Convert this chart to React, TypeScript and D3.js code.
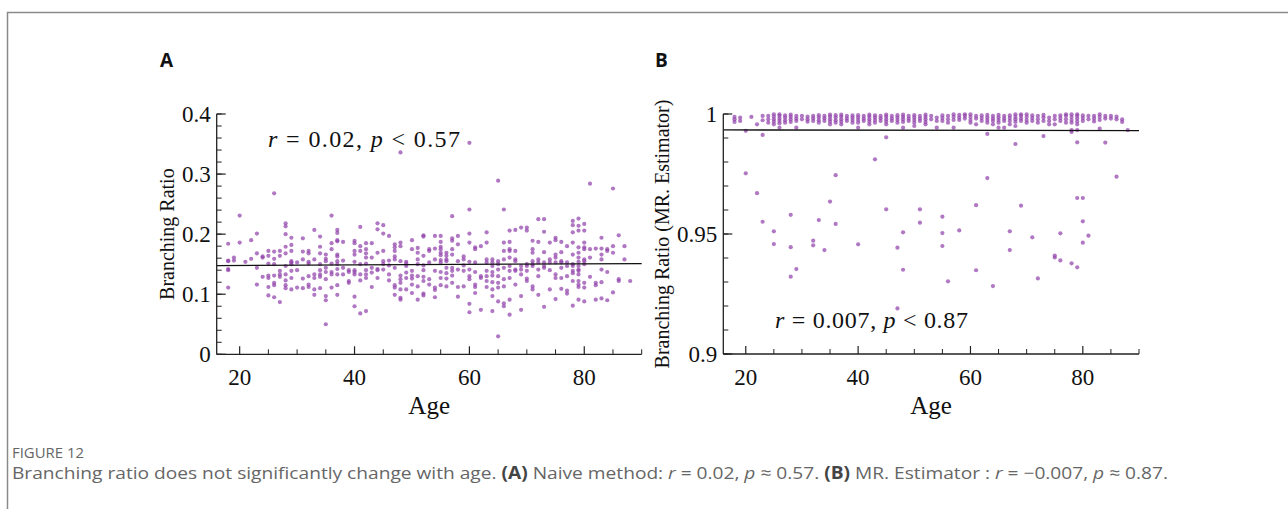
import React from 'react';
import * as d3 from 'd3';

// ---------- DATA ----------
const ageDomain: [number, number] = [16, 90];
const xMajorTicks = [20, 40, 60, 80];
const xMinorTicks = [25, 30, 35, 45, 50, 55, 65, 70, 75, 85, 90];

const yTicksA = [0, 0.1, 0.2, 0.3, 0.4];
const yTickLabelsA = ['0', '0.1', '0.2', '0.3', '0.4'];
const yTicksB = [0.9, 0.95, 1];
const yTickLabelsB = ['0.9', '0.95', '1'];

// Panel A: naive branching ratio, per age column
const naiveA: [number, number[]][] = [
  [18, [0.184, 0.156, 0.155, 0.142, 0.14, 0.111]],
  [19, [0.161, 0.156]],
  [20, [0.231, 0.186]],
  [21, [0.154]],
  [22, [0.19, 0.159]],
  [23, [0.201, 0.168, 0.144, 0.116]],
  [24, [0.163, 0.161, 0.129]],
  [25, [0.172, 0.164, 0.151, 0.131, 0.127, 0.112, 0.098]],
  [26, [0.268, 0.171, 0.159, 0.15, 0.131, 0.119, 0.115, 0.095]],
  [27, [0.172, 0.164, 0.139, 0.133, 0.129, 0.087]],
  [28, [0.218, 0.213, 0.2, 0.179, 0.168, 0.147, 0.133, 0.123, 0.115, 0.11]],
  [29, [0.194, 0.182, 0.172, 0.155, 0.153, 0.15, 0.139, 0.127, 0.108]],
  [30, [0.153, 0.14, 0.111]],
  [31, [0.193, 0.171, 0.158, 0.126, 0.11]],
  [32, [0.172, 0.168, 0.154, 0.151, 0.13, 0.116, 0.112]],
  [33, [0.207, 0.158, 0.133, 0.127, 0.108, 0.099]],
  [34, [0.196, 0.179, 0.168, 0.15, 0.14, 0.133, 0.129, 0.11]],
  [35, [0.166, 0.159, 0.155, 0.144, 0.137, 0.125, 0.097, 0.09, 0.05]],
  [36, [0.231, 0.185, 0.175, 0.151, 0.137, 0.133, 0.111]],
  [37, [0.207, 0.202, 0.19, 0.188, 0.166, 0.163, 0.155, 0.15, 0.142, 0.133, 0.115, 0.099]],
  [38, [0.187, 0.156, 0.144, 0.133]],
  [39, [0.14, 0.137, 0.122, 0.119]],
  [40, [0.189, 0.185, 0.172, 0.166, 0.154, 0.14, 0.137, 0.133, 0.096, 0.08]],
  [41, [0.212, 0.18, 0.172, 0.15, 0.133, 0.123, 0.068]],
  [42, [0.185, 0.175, 0.168, 0.161, 0.151, 0.14, 0.133, 0.127, 0.072]],
  [43, [0.185, 0.161, 0.144, 0.136, 0.112]],
  [44, [0.218, 0.208, 0.169, 0.142, 0.14, 0.127]],
  [45, [0.215, 0.201, 0.172, 0.155, 0.15, 0.141]],
  [46, [0.197, 0.156, 0.148, 0.133, 0.123]],
  [47, [0.183, 0.178, 0.172, 0.163, 0.158, 0.144, 0.115, 0.111, 0.099]],
  [48, [0.336, 0.186, 0.18, 0.155, 0.131, 0.125, 0.119, 0.108, 0.094, 0.091]],
  [49, [0.154, 0.151, 0.147, 0.136, 0.127, 0.108]],
  [50, [0.19, 0.175, 0.139, 0.131, 0.126, 0.116, 0.102]],
  [51, [0.177, 0.169, 0.158, 0.15, 0.13, 0.113, 0.091]],
  [52, [0.198, 0.196, 0.164, 0.148, 0.14, 0.129, 0.122, 0.101, 0.098]],
  [53, [0.175, 0.172, 0.153, 0.125, 0.116]],
  [54, [0.197, 0.176, 0.158, 0.139, 0.111, 0.107, 0.095]],
  [55, [0.197, 0.187, 0.179, 0.175, 0.169, 0.165, 0.157, 0.153, 0.137, 0.127, 0.115]],
  [56, [0.169, 0.164, 0.158, 0.155, 0.144, 0.135, 0.126, 0.113]],
  [57, [0.23, 0.193, 0.189, 0.175, 0.166, 0.144, 0.139, 0.131, 0.119]],
  [58, [0.197, 0.183, 0.155, 0.141, 0.112, 0.096]],
  [59, [0.163, 0.158, 0.148, 0.139, 0.113]],
  [60, [0.352, 0.241, 0.201, 0.186, 0.154, 0.141, 0.13, 0.125, 0.084, 0.07]],
  [61, [0.178, 0.175, 0.153, 0.137, 0.116, 0.112, 0.102]],
  [62, [0.18, 0.13, 0.127, 0.074]],
  [63, [0.203, 0.186, 0.158, 0.153, 0.139, 0.13, 0.122, 0.112]],
  [64, [0.158, 0.153, 0.147, 0.137, 0.131, 0.12, 0.108, 0.097, 0.072]],
  [65, [0.289, 0.155, 0.15, 0.141, 0.13, 0.119, 0.111, 0.088, 0.03]],
  [66, [0.241, 0.186, 0.172, 0.158, 0.144, 0.125, 0.113, 0.085, 0.08]],
  [67, [0.206, 0.187, 0.175, 0.172, 0.161, 0.147, 0.139, 0.127, 0.091, 0.066]],
  [68, [0.207, 0.172, 0.158, 0.155, 0.141, 0.139, 0.116]],
  [69, [0.211, 0.147, 0.141, 0.133, 0.097, 0.074]],
  [70, [0.211, 0.206, 0.15, 0.147, 0.139, 0.126, 0.122]],
  [71, [0.189, 0.175, 0.169, 0.155, 0.15, 0.147, 0.113, 0.108]],
  [72, [0.225, 0.187, 0.158, 0.153, 0.141, 0.13, 0.099]],
  [73, [0.225, 0.204, 0.17, 0.153, 0.147, 0.144, 0.079]],
  [74, [0.186, 0.158, 0.153, 0.14, 0.108]],
  [75, [0.194, 0.19, 0.166, 0.161, 0.153, 0.133, 0.127, 0.092]],
  [76, [0.187, 0.17, 0.155, 0.153, 0.144, 0.127, 0.109]],
  [77, [0.18, 0.153, 0.147, 0.13, 0.106, 0.101]],
  [78, [0.222, 0.215, 0.203, 0.186, 0.166, 0.15, 0.147, 0.139, 0.135, 0.122, 0.081]],
  [79, [0.226, 0.214, 0.206, 0.178, 0.169, 0.161, 0.154, 0.147, 0.141, 0.139, 0.133, 0.122, 0.116, 0.112, 0.091]],
  [80, [0.217, 0.206, 0.186, 0.178, 0.175, 0.158, 0.155, 0.15, 0.119, 0.111, 0.088]],
  [81, [0.284, 0.175, 0.161, 0.129]],
  [82, [0.176, 0.119, 0.115, 0.091]],
  [83, [0.194, 0.176, 0.166, 0.158, 0.141, 0.12, 0.093]],
  [84, [0.175, 0.172, 0.137, 0.09]],
  [85, [0.276, 0.18, 0.169, 0.103]],
  [86, [0.198, 0.125, 0.122]],
  [87, [0.18, 0.158]],
  [88, [0.122]],
];

// Panel B: MR estimator branching ratio, per age column
const mrB: [number, number[]][] = [
  [18, [0.9988, 0.9978, 0.9967]],
  [19, [0.9985, 0.9971]],
  [20, [0.993, 0.9753]],
  [21, [0.9988]],
  [22, [0.9957, 0.967]],
  [23, [0.9992, 0.9974, 0.9913, 0.9551]],
  [24, [0.9992, 0.9978, 0.9964]],
  [25, [0.9999, 0.9989, 0.9978, 0.9968, 0.9957, 0.9511, 0.9458]],
  [26, [0.9999, 0.9992, 0.9981, 0.9971, 0.9961, 0.9943]],
  [27, [0.9994, 0.9985, 0.9974, 0.9964]],
  [28, [0.9997, 0.9988, 0.9978, 0.9967, 0.958, 0.9445, 0.9322]],
  [29, [0.9992, 0.9981, 0.9971, 0.9943, 0.9354]],
  [30, [0.9992, 0.9978]],
  [31, [0.9989, 0.9978, 0.9968]],
  [32, [0.9992, 0.9982, 0.9971, 0.9472, 0.9453]],
  [33, [0.9995, 0.9985, 0.9974, 0.9964, 0.9558]],
  [34, [0.9992, 0.9982, 0.9971, 0.9433]],
  [35, [0.9997, 0.9989, 0.9978, 0.9968, 0.9957, 0.9635]],
  [36, [0.9995, 0.9985, 0.9974, 0.9964, 0.9745, 0.9542]],
  [37, [0.9997, 0.9989, 0.9978, 0.9968, 0.9957]],
  [38, [0.9992, 0.9981, 0.9971]],
  [39, [0.9994, 0.9985, 0.9975, 0.9964]],
  [40, [0.9995, 0.9985, 0.9975, 0.9964, 0.9943, 0.9457]],
  [41, [0.9992, 0.9981, 0.9971]],
  [42, [0.9997, 0.9989, 0.9978, 0.9968, 0.9957]],
  [43, [0.9994, 0.9985, 0.9975, 0.9964, 0.9811]],
  [44, [0.9992, 0.9982, 0.9971]],
  [45, [0.9997, 0.9989, 0.9978, 0.9968, 0.9957, 0.9903, 0.9603]],
  [46, [0.9992, 0.9981, 0.9971]],
  [47, [0.9995, 0.9985, 0.9975, 0.9964, 0.9443, 0.919]],
  [48, [0.9997, 0.9988, 0.9978, 0.9967, 0.9943, 0.9507, 0.9351]],
  [49, [0.9992, 0.9981, 0.9971]],
  [50, [0.9995, 0.9985, 0.9975, 0.9964, 0.995]],
  [51, [0.9992, 0.9981, 0.9971, 0.9603, 0.9547]],
  [52, [0.9997, 0.9988, 0.9978, 0.9967, 0.9957]],
  [53, [0.9992, 0.9978]],
  [54, [0.9985, 0.9971, 0.9943]],
  [55, [0.9994, 0.9983, 0.9971, 0.9572, 0.9504, 0.945]],
  [56, [0.9992, 0.9978, 0.9964, 0.9303]],
  [57, [0.9999, 0.9988, 0.9975, 0.9943]],
  [58, [0.9996, 0.9985, 0.9975, 0.9515]],
  [59, [0.9999, 0.9992, 0.9981]],
  [60, [0.9999, 0.9988, 0.9975, 0.9964]],
  [61, [0.9992, 0.9981, 0.9957, 0.962, 0.9349]],
  [62, [0.9994, 0.9983, 0.9971]],
  [63, [0.9996, 0.9985, 0.9975, 0.9964, 0.9917, 0.9733]],
  [64, [0.9992, 0.9981, 0.9971, 0.9957, 0.9283]],
  [65, [0.9996, 0.9985, 0.9975, 0.9964, 0.9943]],
  [66, [0.9992, 0.9981, 0.9971, 0.9943]],
  [67, [0.9994, 0.9983, 0.9971, 0.9957, 0.9511, 0.9433]],
  [68, [0.9999, 0.9988, 0.9978, 0.9967, 0.995, 0.9875]],
  [69, [0.9999, 0.9992, 0.9981, 0.9971, 0.9618]],
  [70, [0.9999, 0.9988, 0.9975, 0.9964]],
  [71, [0.9994, 0.9983, 0.9971, 0.9486]],
  [72, [0.9992, 0.9978, 0.9964, 0.9315]],
  [73, [0.9996, 0.9985, 0.9971, 0.9908]],
  [74, [0.9985, 0.9971, 0.9957]],
  [75, [0.9992, 0.9978, 0.9957, 0.941, 0.9402]],
  [76, [0.9994, 0.9983, 0.9971, 0.9503, 0.939]],
  [77, [0.9999, 0.9992, 0.9978, 0.9964]],
  [78, [0.9999, 0.9988, 0.9975, 0.9964, 0.9933, 0.9925, 0.9378]],
  [79, [0.9999, 0.9992, 0.9981, 0.9969, 0.9957, 0.9933, 0.9882, 0.965, 0.9361]],
  [80, [0.9994, 0.9983, 0.9971, 0.965, 0.9553, 0.9464]],
  [81, [0.9992, 0.9978, 0.9493]],
  [82, [0.9992, 0.9981, 0.9969]],
  [83, [0.9999, 0.9988, 0.9975, 0.9939]],
  [84, [0.9992, 0.9981, 0.9881]],
  [85, [0.9992, 0.9981]],
  [86, [0.9989, 0.9978, 0.9739]],
  [87, [0.9978, 0.9967]],
  [88, [0.9933]],
];

// regression lines (age, value) endpoints
const fitA: [number, number][] = [[16, 0.1477], [90, 0.151]];
const fitB: [number, number][] = [[16, 0.99335], [90, 0.99308]];

const annoA = { r: '0.02', p: '0.57' };
const annoB = { r: '0.007', p: '0.87' };

const captionTitle = 'FIGURE 12';

// ---------- COMPONENTS ----------
const SERIF = '"Liberation Serif", "Times New Roman", serif';
const SANS = '"Open Sans", "Noto Sans", Arial, sans-serif';
const DOT = '#9243aa';

type PanelProps = {
  letter: string;
  data: [number, number[]][];
  fit: [number, number][];
  yDomain: [number, number];
  yTicks: number[];
  yLabels: string[];
  yMinorStep: number;
  xRange: [number, number];
  yRange: [number, number];
  yTitle: string;
  yTitleX: number;
  anno: { r: string; p: string };
  annoX: number;
  annoY: number;
  annoW: number;
  letterX: number;
};

function Panel(p: PanelProps) {
  const x = d3.scaleLinear().domain(ageDomain).range(p.xRange);
  const y = d3.scaleLinear().domain(p.yDomain).range(p.yRange);
  const x0 = p.xRange[0];
  const y0 = p.yRange[0];
  const n = Math.round((p.yDomain[1] - p.yDomain[0]) / p.yMinorStep);
  const minorY = d3.range(0, n + 1).map((i) => p.yDomain[0] + i * p.yMinorStep);
  const pts = p.data.flatMap(([age, vals]) => vals.map((v) => [age, v] as [number, number]));
  const line = d3.line<[number, number]>().x((d) => x(d[0])).y((d) => y(d[1]));
  const midY = (p.yRange[0] + p.yRange[1]) / 2;
  return (
    <g>
      <text x={p.letterX} y={67} fontFamily={SANS} fontWeight={700} fontSize={19} fill="#111">
        {p.letter}
      </text>
      {pts.map((d, i) => (
        <circle key={i} cx={x(d[0])} cy={y(d[1])} r={2.1} fill={DOT} fillOpacity={0.72} />
      ))}
      <path d={line(p.fit) || ''} stroke="#111" strokeWidth={1.3} fill="none" />
      {/* axes */}
      <line x1={x0} x2={x0} y1={y0} y2={p.yRange[1]} stroke="#222" strokeWidth={1.3} />
      <line x1={x0} x2={p.xRange[1]} y1={y0} y2={y0} stroke="#222" strokeWidth={1.3} />
      {minorY.map((v, i) => (
        <line key={'my' + i} x1={x0} x2={x0 + 5} y1={y(v)} y2={y(v)} stroke="#222" strokeWidth={1} />
      ))}
      {p.yTicks.map((v, i) => (
        <g key={'y' + i}>
          <line x1={x0} x2={x0 + 9} y1={y(v)} y2={y(v)} stroke="#222" strokeWidth={1.2} />
          <text x={x0 - 6} y={y(v)} dy="0.34em" textAnchor="end" fontFamily={SERIF} fontSize={23} fill="#111">
            {p.yLabels[i]}
          </text>
        </g>
      ))}
      {xMinorTicks.map((v, i) => (
        <line key={'mx' + i} x1={x(v)} x2={x(v)} y1={y0} y2={y0 - 5} stroke="#222" strokeWidth={1} />
      ))}
      {xMajorTicks.map((v, i) => (
        <g key={'x' + i}>
          <line x1={x(v)} x2={x(v)} y1={y0} y2={y0 - 8} stroke="#222" strokeWidth={1.2} />
          <text x={x(v)} y={y0 + 31} textAnchor="middle" fontFamily={SERIF} fontSize={23} fill="#111">
            {v}
          </text>
        </g>
      ))}
      <text x={(p.xRange[0] + p.xRange[1]) / 2} y={414} textAnchor="middle" fontFamily={SERIF} fontSize={25} fill="#111">
        Age
      </text>
      <text
        transform={`translate(${p.yTitleX},${midY}) rotate(-90)`}
        textAnchor="middle"
        fontFamily={SERIF}
        fontSize={20}
        fill="#111"
      >
        {p.yTitle}
      </text>
      <text x={p.annoX} y={p.annoY} fontFamily={SERIF} fontSize={24} fill="#111" textLength={p.annoW} lengthAdjust="spacing">
        <tspan fontStyle="italic">r</tspan>
        {' = ' + p.anno.r + ', '}
        <tspan fontStyle="italic">p</tspan>
        {' < ' + p.anno.p}
      </text>
    </g>
  );
}

export default function App() {
  return (
    <svg
      width={1288}
      height={509}
      style={{ position: 'absolute', left: 0, top: 0, background: '#fff' }}
    >
      <rect x={0} y={0} width={1288} height={509} fill="#fff" />
      <path d="M7.5,509 L7.5,12.5 L1288,12.5" stroke="#8a8a8a" strokeWidth={1.5} fill="none" />
      <Panel
        letter="A"
        letterX={160}
        data={naiveA}
        fit={fitA}
        yDomain={[0, 0.4]}
        yTicks={yTicksA}
        yLabels={yTickLabelsA}
        yMinorStep={0.02}
        xRange={[216.7, 641.7]}
        yRange={[354.3, 114]}
        yTitle="Branching Ratio"
        yTitleX={174}
        anno={annoA}
        annoX={268}
        annoY={146.5}
        annoW={192}
      />
      <Panel
        letter="B"
        letterX={655}
        data={mrB}
        fit={fitB}
        yDomain={[0.9, 1]}
        yTicks={yTicksB}
        yLabels={yTickLabelsB}
        yMinorStep={0.01}
        xRange={[723.3, 1139]}
        yRange={[354, 114]}
        yTitle="Branching Ratio (MR. Estimator)"
        yTitleX={669}
        anno={annoB}
        annoX={775}
        annoY={328}
        annoW={193}
      />
      <text x={12} y={458} fontFamily={SANS} fontSize={14} fill="#666" textLength={72} lengthAdjust="spacingAndGlyphs">
        {captionTitle}
      </text>
      <text x={12} y={479} fontFamily={SANS} fontSize={17} fill="#666" textLength={1156} lengthAdjust="spacingAndGlyphs">
        {'Branching ratio does not significantly change with age. '}
        <tspan fontWeight={700} fill="#444">(A)</tspan>
        {' Naive method: '}
        <tspan fontStyle="italic">r</tspan>
        {' = 0.02, '}
        <tspan fontStyle="italic">p</tspan>
        {' ≈ 0.57. '}
        <tspan fontWeight={700} fill="#444">(B)</tspan>
        {' MR. Estimator : '}
        <tspan fontStyle="italic">r</tspan>
        {' = −0.007, '}
        <tspan fontStyle="italic">p</tspan>
        {' ≈ 0.87.'}
      </text>
    </svg>
  );
}
